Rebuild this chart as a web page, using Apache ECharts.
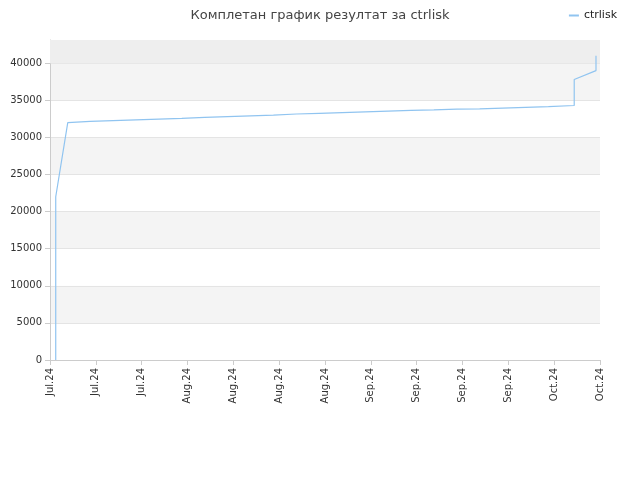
<!DOCTYPE html>
<html><head><meta charset="utf-8">
<script src="https://cdn.jsdelivr.net/npm/echarts@6/dist/echarts.min.js"></script>
<style>html,body{margin:0;padding:0;background:#fff}#c{width:640px;height:480px}</style>
</head><body><div id="c"></div>
<script>
var tickLabels = ["Jul.24","Jul.24","Jul.24","Aug.24","Aug.24","Aug.24","Aug.24","Sep.24","Sep.24","Sep.24","Sep.24","Oct.24","Oct.24"];
var days = [1, 1, 3.1, 7, 11, 15, 19, 23, 27, 31, 35, 39, 43, 47, 51, 55, 59, 63, 67, 71, 75, 79, 83, 87, 91.5, 91.5, 95.3, 95.3];
var values = [0, 22000, 32000, 32150, 32250, 32350, 32450, 32550, 32700, 32800, 32900, 33000, 33150, 33250, 33350, 33450, 33550, 33650, 33700, 33800, 33850, 33950, 34050, 34150, 34300, 37800, 39000, 41000];
var data = days.map(function(d,i){return [d, values[i]];});
var chart = echarts.init(document.getElementById('c'));
chart.setOption({
  animation:false,
  title:{text:'Комплетан график резултат за ctrlisk',left:'center',top:4,textStyle:{fontSize:13,fontWeight:'normal',color:'#444',fontFamily:'DejaVu Sans'}},
  legend:{right:18,top:5,itemWidth:10,itemHeight:2,textStyle:{fontSize:11,color:'#222',fontFamily:'DejaVu Sans'},data:[{name:'ctrlisk',icon:'rect'}]},
  grid:{left:50,right:40,top:40,bottom:120},
  xAxis:{type:'value',min:0,max:96,interval:8,
    axisLine:{lineStyle:{color:'#ccc'}},axisTick:{show:true,lineStyle:{color:'#ccc'}},
    splitLine:{show:false},
    axisLabel:{rotate:90,fontSize:10,color:'#333',fontFamily:'DejaVu Sans',formatter:function(v){return tickLabels[Math.round(v/8)]||'';}}},
  yAxis:{type:'value',min:0,max:43125,interval:5000,
    axisLine:{show:true,lineStyle:{color:'#ccc'}},
    axisLabel:{fontSize:10,color:'#333',fontFamily:'DejaVu Sans',showMaxLabel:false,formatter:function(v){return String(v);}},
    splitLine:{lineStyle:{color:'#e4e4e4'}},
    splitArea:{show:true,areaStyle:{color:['#ffffff','#f4f4f4']}}},
  series:[{name:'ctrlisk',type:'line',data:data,showSymbol:false,
    lineStyle:{color:'#90c4f0',width:1.2},itemStyle:{color:'#90c4f0'},
    markArea:{silent:true,itemStyle:{color:'#eeeeee'},data:[[{yAxis:40000},{yAxis:43125}]]}}]
});
</script></body></html>
